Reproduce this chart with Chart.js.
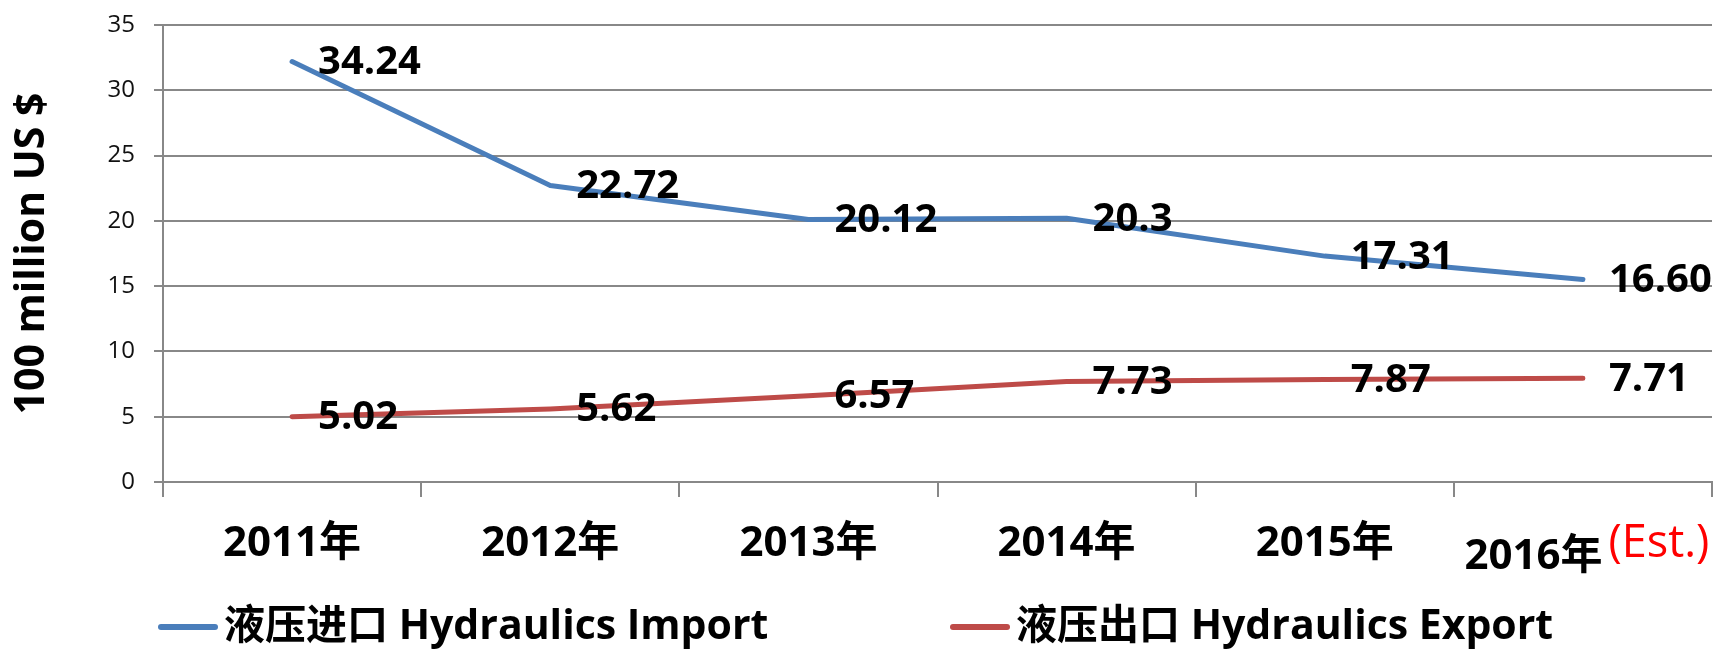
<!DOCTYPE html>
<html>
<head>
<meta charset="utf-8">
<title>Hydraulics Import / Export</title>
<script src="https://cdn.jsdelivr.net/npm/chart.js@4.4.1/dist/chart.umd.min.js"></script>
<style>
  html, body { margin: 0; padding: 0; background: #fff; }
  #wrap { width: 1717px; height: 651px; }
</style>
</head>
<body>
<div id="wrap"><canvas id="chart" width="1717" height="651"></canvas></div>
<script>
// data
var categories = ['2011年', '2012年', '2013年', '2014年', '2015年', '2016年'];
var lastNote = '(Est.)';
var yTicks = [0, 5, 10, 15, 20, 25, 30, 35];

var importName = '液压进口 Hydraulics Import';
var importValues = [32.2, 22.7, 20.1, 20.2, 17.3, 15.5];
var importLabels = ['34.24', '22.72', '20.12', '20.3', '17.31', '16.60'];

var exportName = '液压出口 Hydraulics Export';
var exportValues = [5.0, 5.6, 6.6, 7.7, 7.85, 7.95];
var exportLabels = ['5.02', '5.62', '6.57', '7.73', '7.87', '7.71'];

var FONT = "'Open Sans', 'Noto Sans CJK SC', sans-serif";
var GRID = '#888888';

// value labels to the right of each point
var valueLabels = {
    id: 'valueLabels',
    afterDatasetsDraw: function(chart) {
        var ctx = chart.ctx;
        ctx.save();
        ctx.font = 'bold 40px ' + FONT;
        ctx.fillStyle = '#000';
        ctx.textAlign = 'left';
        ctx.textBaseline = 'middle';
        chart.data.datasets.forEach(function(ds, di) {
            var meta = chart.getDatasetMeta(di);
            meta.data.forEach(function(pt, i) {
                ctx.fillText(ds.valueText[i], pt.x + 26, pt.y + 1);
            });
        });
        ctx.restore();
    }
};

// category labels under the axis (last one has a red note)
var categoryLabels = {
    id: 'categoryLabels',
    afterDraw: function(chart) {
        var ctx = chart.ctx;
        var xs = chart.scales.x;
        var base = chart.chartArea.bottom;
        ctx.save();
        ctx.textBaseline = 'middle';
        categories.forEach(function(c, i) {
            var x = xs.getPixelForValue(i);
            if (i < categories.length - 1) {
                ctx.font = 'bold 42px ' + FONT;
                ctx.fillStyle = '#000';
                ctx.textAlign = 'center';
                ctx.fillText(c, x, base + 62);
            } else {
                ctx.font = 'bold 42px ' + FONT;
                var w1 = ctx.measureText(c).width;
                ctx.font = '45px ' + FONT;
                var w2 = ctx.measureText(lastNote).width;
                var start = x - (w1 + 6 + w2) / 2 + 4;
                ctx.textAlign = 'left';
                ctx.font = 'bold 42px ' + FONT;
                ctx.fillStyle = '#000';
                ctx.fillText(c, start, base + 75);
                ctx.font = '45px ' + FONT;
                ctx.fillStyle = '#ff0000';
                ctx.fillText(lastNote, start + w1 + 6, base + 62);
            }
        });
        ctx.restore();
    }
};

// legend at the bottom, line samples
var bottomLegend = {
    id: 'bottomLegend',
    afterDraw: function(chart) {
        var ctx = chart.ctx;
        var starts = [158, 950];
        var y = 627;
        ctx.save();
        chart.data.datasets.forEach(function(ds, i) {
            var x = starts[i];
            ctx.strokeStyle = ds.borderColor;
            ctx.lineWidth = 6;
            ctx.lineCap = 'round';
            ctx.beginPath();
            ctx.moveTo(x + 3, y);
            ctx.lineTo(x + 57, y);
            ctx.stroke();
            ctx.font = 'bold 41px ' + FONT;
            ctx.fillStyle = '#000';
            ctx.textAlign = 'left';
            ctx.textBaseline = 'middle';
            ctx.fillText(ds.label, x + 66, y);
        });
        ctx.restore();
    }
};

var ctx = document.getElementById('chart').getContext('2d');
new Chart(ctx, {
    type: 'line',
    data: {
        labels: categories,
        datasets: [{
            label: importName,
            data: importValues,
            valueText: importLabels,
            borderColor: '#4a7ebb',
            backgroundColor: '#4a7ebb',
            borderWidth: 5,
            pointRadius: 0,
            borderCapStyle: 'round',
            borderJoinStyle: 'round',
            tension: 0
        }, {
            label: exportName,
            data: exportValues,
            valueText: exportLabels,
            borderColor: '#be4b48',
            backgroundColor: '#be4b48',
            borderWidth: 5,
            pointRadius: 0,
            borderCapStyle: 'round',
            borderJoinStyle: 'round',
            tension: 0
        }]
    },
    options: {
        responsive: false,
        animation: false,
        devicePixelRatio: 1,
        layout: { padding: { top: 25, right: 5, left: 0, bottom: 0 } },
        plugins: {
            legend: { display: false },
            tooltip: { enabled: false }
        },
        scales: {
            x: {
                offset: true,
                ticks: { display: false },
                grid: {
                    offset: true,
                    drawOnChartArea: false,
                    drawTicks: true,
                    tickLength: 15,
                    color: GRID,
                    lineWidth: 2
                },
                border: { display: true, color: GRID, width: 2 },
                afterFit: function(s) { s.height = 169; }
            },
            y: {
                min: 0,
                max: 35,
                afterBuildTicks: function(s) {
                    s.ticks = yTicks.map(function(v) { return { value: v }; });
                },
                ticks: {
                    padding: 19,
                    color: '#111',
                    font: { family: FONT, size: 24 }
                },
                grid: {
                    color: GRID,
                    lineWidth: 2,
                    tickLength: 9
                },
                border: { display: true, color: GRID, width: 2 },
                title: {
                    display: true,
                    text: '100 million US $',
                    color: '#000',
                    font: { family: FONT, size: 41, weight: 'bold' },
                    padding: { top: 8, bottom: 4 }
                },
                afterFit: function(s) {
                    s.width = 163;
                    s.paddingTop = 0;
                    s.paddingBottom = 0;
                }
            }
        }
    },
    plugins: [valueLabels, categoryLabels, bottomLegend]
});
</script>
</body>
</html>
